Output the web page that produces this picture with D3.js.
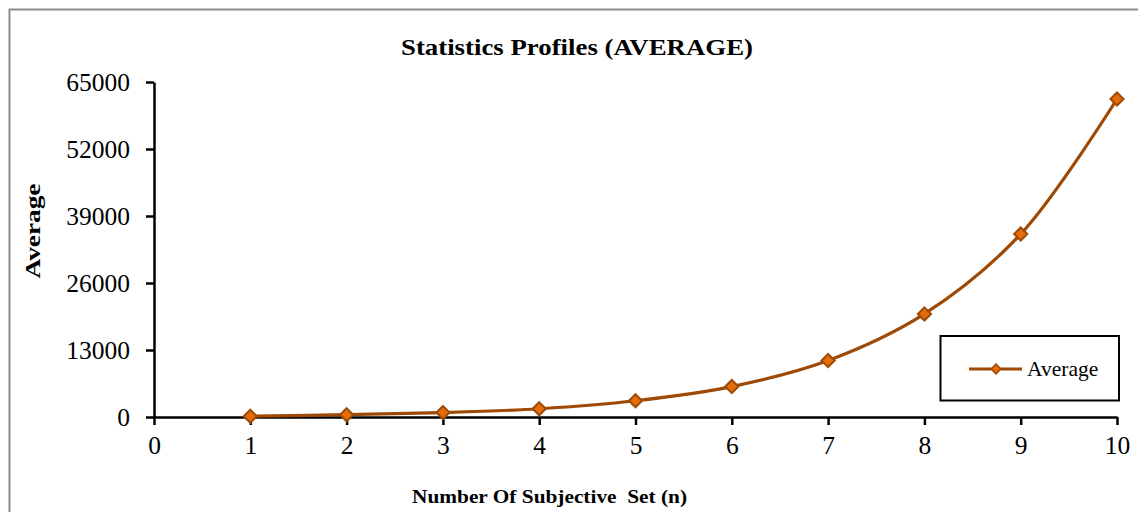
<!DOCTYPE html>
<html>
<head>
<meta charset="utf-8">
<script src="https://cdn.jsdelivr.net/npm/d3@7"></script>
<style>
  html, body { margin: 0; padding: 0; background: #fff; }
  svg { display: block; }
  text { font-family: "Liberation Serif", "Times New Roman", serif; fill: #000; }
</style>
</head>
<body>
<svg id="chart" width="1138" height="512"></svg>
<script>
// Number of subjective sets and the average measured for each
const setSizes = [1, 2, 3, 4, 5, 6, 7, 8, 9, 10];
const averages = [150, 450, 850, 1600, 3150, 5900, 10950, 20000, 35500, 61700];
const xTicks = [0, 1, 2, 3, 4, 5, 6, 7, 8, 9, 10];
const yTicks = [0, 13000, 26000, 39000, 52000, 65000];

const svg = d3.select("#chart");
const W = 1138, H = 512;
const plot = { left: 154, right: 1117, top: 82, bottom: 417 };

const lineColor = "#9E4A06";
const markerFill = "#E46C0A";

// Outer frame
svg.append("path")
  .attr("d", `M9.5,${H + 5} V9.5 H${W + 5}`)
  .attr("fill", "none")
  .attr("stroke", "#8c8c8c")
  .attr("stroke-width", 2);

const x = d3.scaleLinear().domain([0, 10]).range([plot.left, plot.right]);
const y = d3.scaleLinear().domain([0, 65000]).range([plot.bottom, plot.top]);

// Y axis
const yAxis = svg.append("g")
  .attr("transform", `translate(${plot.left},0)`)
  .call(d3.axisLeft(y).tickValues(yTicks).tickFormat(d3.format("d")).tickSize(8).tickSizeOuter(0).tickPadding(16));
// X axis
const xAxis = svg.append("g")
  .attr("transform", `translate(0,${plot.bottom})`)
  .call(d3.axisBottom(x).tickValues(xTicks).tickFormat(d3.format("d")).tickSize(8).tickSizeOuter(0).tickPadding(10));

[yAxis, xAxis].forEach(g => {
  g.selectAll(".domain").attr("stroke", "#000").attr("stroke-width", 2.5);
  g.selectAll(".tick line").attr("stroke", "#000").attr("stroke-width", 2.5);
  g.selectAll(".tick text")
    .style("font-family", '"Liberation Serif", "Times New Roman", serif')
    .style("font-size", "25.5px")
    .attr("fill", "#000");
});
yAxis.selectAll(".tick text").attr("dy", "0.34em");
xAxis.selectAll(".tick text").attr("dy", "0.75em");

// Smoothed series line
const data = setSizes.map((n, i) => ({ n, v: averages[i] }));
const line = d3.line()
  .x(d => x(d.n))
  .y(d => y(d.v))
  .curve(d3.curveCatmullRom.alpha(0.5));

svg.append("path")
  .datum(data)
  .attr("d", line)
  .attr("fill", "none")
  .attr("stroke", lineColor)
  .attr("stroke-width", 3.2)
  .attr("stroke-linejoin", "round");

const diamond = d3.symbol().type(d3.symbolDiamond2).size(110);
svg.append("g").selectAll("path")
  .data(data)
  .join("path")
  .attr("transform", d => `translate(${x(d.n)},${y(d.v)})`)
  .attr("d", diamond)
  .attr("fill", markerFill)
  .attr("stroke", lineColor)
  .attr("stroke-width", 2);

// Title
svg.append("text")
  .attr("x", 577).attr("y", 55)
  .attr("text-anchor", "middle")
  .attr("textLength", 352)
  .attr("lengthAdjust", "spacingAndGlyphs")
  .style("font-size", "24px")
  .style("font-weight", "bold")
  .text("Statistics Profiles (AVERAGE)");

// Axis titles
svg.append("text")
  .attr("transform", "translate(40,231) rotate(-90)")
  .attr("text-anchor", "middle")
  .attr("textLength", 95)
  .attr("lengthAdjust", "spacingAndGlyphs")
  .style("font-size", "22px")
  .style("font-weight", "bold")
  .text("Average");

svg.append("text")
  .attr("x", 549.5).attr("y", 503)
  .attr("text-anchor", "middle")
  .attr("textLength", 275)
  .attr("lengthAdjust", "spacingAndGlyphs")
  .style("font-size", "19px")
  .style("font-weight", "bold")
  .style("white-space", "pre")
  .text("Number Of Subjective  Set (n)");

// Legend
const legend = svg.append("g");
legend.append("rect")
  .attr("x", 940.5).attr("y", 336)
  .attr("width", 178.5).attr("height", 64.5)
  .attr("fill", "#fff")
  .attr("stroke", "#000")
  .attr("stroke-width", 2);
legend.append("line")
  .attr("x1", 969).attr("x2", 1022)
  .attr("y1", 369).attr("y2", 369)
  .attr("stroke", lineColor)
  .attr("stroke-width", 3.2);
legend.append("path")
  .attr("transform", "translate(996,369)")
  .attr("d", d3.symbol().type(d3.symbolDiamond2).size(60))
  .attr("fill", markerFill)
  .attr("stroke", lineColor)
  .attr("stroke-width", 1.5);
legend.append("text")
  .attr("x", 1027).attr("y", 376)
  .style("font-size", "21.5px")
  .text("Average");
</script>
</body>
</html>
